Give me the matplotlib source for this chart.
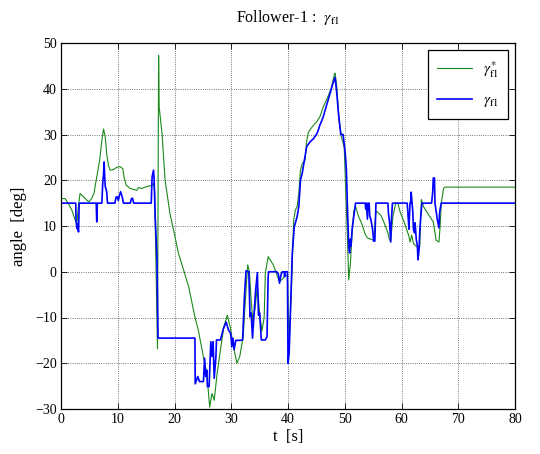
import matplotlib
matplotlib.use("Agg")
import matplotlib.pyplot as plt
import numpy as np

plt.rcParams['font.family'] = ['Liberation Serif', 'DejaVu Serif']
plt.rcParams['mathtext.fontset'] = 'stix'

# ---- data: reference angle gamma*_f1 ----
ref_t = [0.0, 0.7, 1.3, 1.9, 2.5, 2.8, 3.05, 3.35, 3.9, 4.5,
         4.9, 5.4, 5.8, 6.3, 6.8, 7.2, 7.5, 7.8, 8.05, 8.35,
         8.65, 9.2, 9.8, 10.4, 10.9, 11.1, 11.5, 12.2, 13.35, 13.65,
         14.2, 15.1, 16.0, 16.3, 16.5, 17.0, 17.2, 17.3, 17.8, 18.35,
         19.2, 20.1, 20.7, 21.6, 22.5, 23.6, 24.2, 25.1, 25.7, 26.2,
         26.6, 27.0, 27.5, 28.1, 28.7, 29.3, 29.8, 30.5, 31.0, 31.5,
         32.1, 32.6, 32.9, 33.2, 33.5, 33.8, 34.2, 34.6, 35.0, 35.4,
         35.8, 36.0, 36.5, 37.4, 38.5, 39.1, 39.6, 39.9, 40.2, 40.6,
         41.0, 41.3, 41.6, 41.9, 42.2, 42.5, 43.0, 43.3, 43.6, 44.2,
         45.0, 45.6, 46.2, 47.0, 47.6, 48.2, 48.3, 48.6, 49.0, 49.4,
         49.9, 50.2, 50.5, 50.7, 51.0, 51.3, 51.6, 51.9, 52.4, 53.0,
         53.6, 54.0, 54.4, 55.0, 55.1, 55.5, 55.9, 56.4, 57.0, 57.6,
         57.9, 58.1, 58.5, 59.0, 59.4, 59.8, 60.4, 61.0, 61.3, 61.5,
         61.8, 62.1, 62.4, 62.7, 63.2, 63.5, 63.9, 64.8, 65.6, 66.1,
         66.6, 66.8, 67.0, 67.4, 67.6, 80.0]
ref_v = [16.0, 16.0, 14.9, 13.5, 11.3, 10.6, 14.2, 17.1, 16.5, 15.7,
         15.3, 16.0, 17.1, 20.7, 24.3, 28.7, 31.2, 29.4, 25.8, 23.3,
         22.2, 22.3, 22.8, 23.0, 22.5, 20.7, 18.9, 18.2, 17.8, 18.4,
         18.2, 18.6, 18.9, 19.3, 17.8, -16.8, 47.3, 36.0, 30.2, 20.0,
         12.7, 7.6, 4.0, 0.4, -3.3, -9.9, -12.8, -18.6, -22.3, -29.6,
         -26.6, -28.1, -22.3, -17.0, -12.0, -9.5, -12.0, -17.1, -20.0, -18.5,
         -14.2, -4.0, 1.5, 0.0, -6.0, -11.0, -8.0, -3.0, -9.0, -13.0,
         -10.0, -0.4, 3.3, 1.5, -2.2, -1.5, -0.7, -1.0, -16.0, -4.0,
         11.3, 13.5, 14.2, 17.1, 22.2, 23.6, 24.4, 28.7, 30.5, 31.6,
         32.7, 33.8, 36.0, 38.2, 40.0, 43.3, 43.4, 40.4, 33.1, 29.5,
         27.3, 17.1, 6.2, -1.8, 1.9, 8.5, 13.3, 14.3, 12.2, 10.5,
         8.2, 7.4, 7.2, 6.9, 6.7, 13.3, 12.9, 12.3, 10.5, 8.5,
         6.9, 6.9, 12.2, 15.1, 14.8, 12.9, 11.1, 8.9, 7.8, 6.5,
         8.0, 6.2, 5.8, 5.5, 5.3, 15.8, 14.2, 12.4, 10.9, 6.9,
         6.5, 9.8, 14.9, 18.2, 18.5, 18.5]

# ---- data: actual angle gamma_f1 ----
act_t = [0.0, 2.6, 2.65, 2.8, 2.9, 3.0, 3.1, 3.2, 6.2, 6.3,
         6.4, 7.2, 7.35, 7.5, 7.6, 7.7, 7.8, 7.9, 8.05, 8.2,
         9.5, 9.7, 9.9, 10.1, 10.3, 10.5, 10.8, 11.0, 12.2, 12.4,
         12.6, 12.8, 15.9, 16.05, 16.3, 16.4, 16.6, 16.9, 17.1, 23.6,
         23.65, 24.1, 24.4, 25.1, 25.3, 25.5, 25.7, 25.8, 26.1, 26.4,
         26.6, 26.8, 27.0, 27.3, 27.4, 28.1, 28.6, 29.1, 29.5, 29.9,
         30.1, 30.3, 30.5, 30.8, 31.5, 32.0, 32.3, 32.6, 33.1, 33.3,
         33.5, 33.75, 34.0, 34.3, 34.6, 34.8, 35.0, 35.3, 36.0, 36.3,
         36.5, 36.6, 38.0, 38.3, 38.5, 38.8, 39.0, 39.3, 39.4, 39.5,
         39.9, 40.0, 40.2, 40.5, 40.75, 41.1, 41.6, 41.9, 42.2, 42.5,
         42.9, 43.3, 43.9, 44.5, 45.0, 45.3, 45.6, 46.2, 46.7, 47.3,
         47.9, 48.3, 48.6, 48.9, 49.3, 49.7, 50.1, 50.3, 50.45, 50.6,
         50.7, 50.85, 51.0, 51.1, 51.3, 51.6, 51.9, 53.6, 53.7, 53.8,
         54.0, 54.1, 54.3, 54.4, 54.6, 54.9, 55.1, 55.3, 55.5, 57.6,
         57.7, 57.9, 58.1, 58.2, 58.4, 61.0, 61.2, 61.3, 61.4, 61.5,
         61.6, 61.7, 61.8, 62.0, 62.1, 62.3, 62.4, 62.6, 62.8, 62.9,
         63.1, 63.2, 63.4, 63.6, 65.3, 65.5, 65.6, 65.8, 65.9, 66.3,
         66.6, 66.7, 67.0, 80.0]
act_v = [15.0, 15.0, 11.3, 9.5, 10.5, 9.1, 8.7, 15.0, 15.0, 10.9,
         15.0, 15.0, 19.3, 21.4, 24.0, 20.7, 18.6, 18.2, 17.5, 15.0,
         15.0, 16.3, 16.4, 15.6, 16.7, 17.5, 16.3, 15.0, 15.0, 15.9,
         16.1, 15.0, 15.0, 20.7, 22.2, 20.5, 12.0, 3.3, -14.5, -14.5,
         -24.5, -22.9, -24.0, -24.0, -18.9, -22.9, -21.5, -25.1, -25.1, -15.3,
         -18.5, -15.3, -23.3, -18.5, -14.9, -14.9, -12.5, -11.0, -12.7, -13.5,
         -16.4, -14.5, -17.0, -15.0, -15.0, -14.9, -6.0, 0.2, 0.0, -9.8,
         -9.0, -14.5, -9.5, -4.0, -0.2, -9.5, -9.0, -14.9, -14.9, -14.2,
         -1.0, 0.0, 0.0, -0.5, -2.5, -0.5, 0.0, 0.0, -1.1, 0.0,
         0.0, -20.0, -17.8, -6.2, 4.0, 9.8, 12.0, 14.2, 20.0, 21.5,
         24.4, 27.4, 28.4, 29.1, 30.0, 30.8, 32.0, 33.8, 36.0, 38.5,
         41.1, 42.5, 38.9, 34.5, 30.0, 30.0, 25.8, 22.0, 15.0, 9.3,
         5.6, 4.1, 7.1, 5.6, 9.3, 12.2, 15.0, 15.0, 13.7, 15.0,
         11.5, 15.0, 15.0, 12.2, 11.5, 9.3, 6.7, 6.7, 15.0, 15.0,
         12.9, 10.7, 6.5, 10.7, 15.0, 15.0, 11.5, 9.3, 12.2, 15.0,
         15.0, 17.4, 15.8, 12.9, 9.3, 8.5, 10.7, 7.1, 5.6, 2.6,
         4.9, 8.5, 12.2, 15.0, 15.0, 17.4, 20.5, 20.5, 15.0, 11.5,
         9.6, 12.9, 15.0, 15.0]

x_ticks = [0, 10, 20, 30, 40, 50, 60, 70, 80]
y_ticks = [-30, -20, -10, 0, 10, 20, 30, 40, 50]

fig = plt.figure(figsize=(5.4, 4.54), dpi=100)
ax = fig.add_axes([61/540, 45/454, 454/540, 366/454])

ax.plot(ref_t, ref_v, color='#1a8a1a', lw=0.8, label=r'$\gamma^{*}_{\mathrm{f1}}$')
ax.plot(act_t, act_v, color='#0000ff', lw=1.2, label=r'$\gamma_{\mathrm{f1}}$')

ax.set_xlim(0, 80)
ax.set_ylim(-30, 50)
ax.set_xticks(x_ticks)
ax.set_yticks(y_ticks)
ax.tick_params(direction='in', top=True, right=True, labelsize=10, length=4, width=0.6, pad=3)
ax.grid(True, color='black', linestyle=':', linewidth=0.6, alpha=0.7)
for s in ax.spines.values():
    s.set_linewidth(0.9)

ax.set_xlabel('t  [s]', fontsize=12, labelpad=2)
ax.set_ylabel('angle  [deg]', fontsize=12, labelpad=6)
ax.set_title(r'Follower-1 :  $\gamma_{\mathrm{f1}}$', fontsize=11.5, pad=15)

leg = ax.legend(loc='upper right', bbox_to_anchor=((508 - 61) / 454, (409 - 50) / 366),
                borderaxespad=0.0, fontsize=11, handlelength=2.3,
                fancybox=False, edgecolor='black', framealpha=1, labelspacing=0.9,
                handletextpad=0.7, borderpad=0.6)
leg.get_frame().set_linewidth(0.9)

fig.savefig('out.png', dpi=100)
